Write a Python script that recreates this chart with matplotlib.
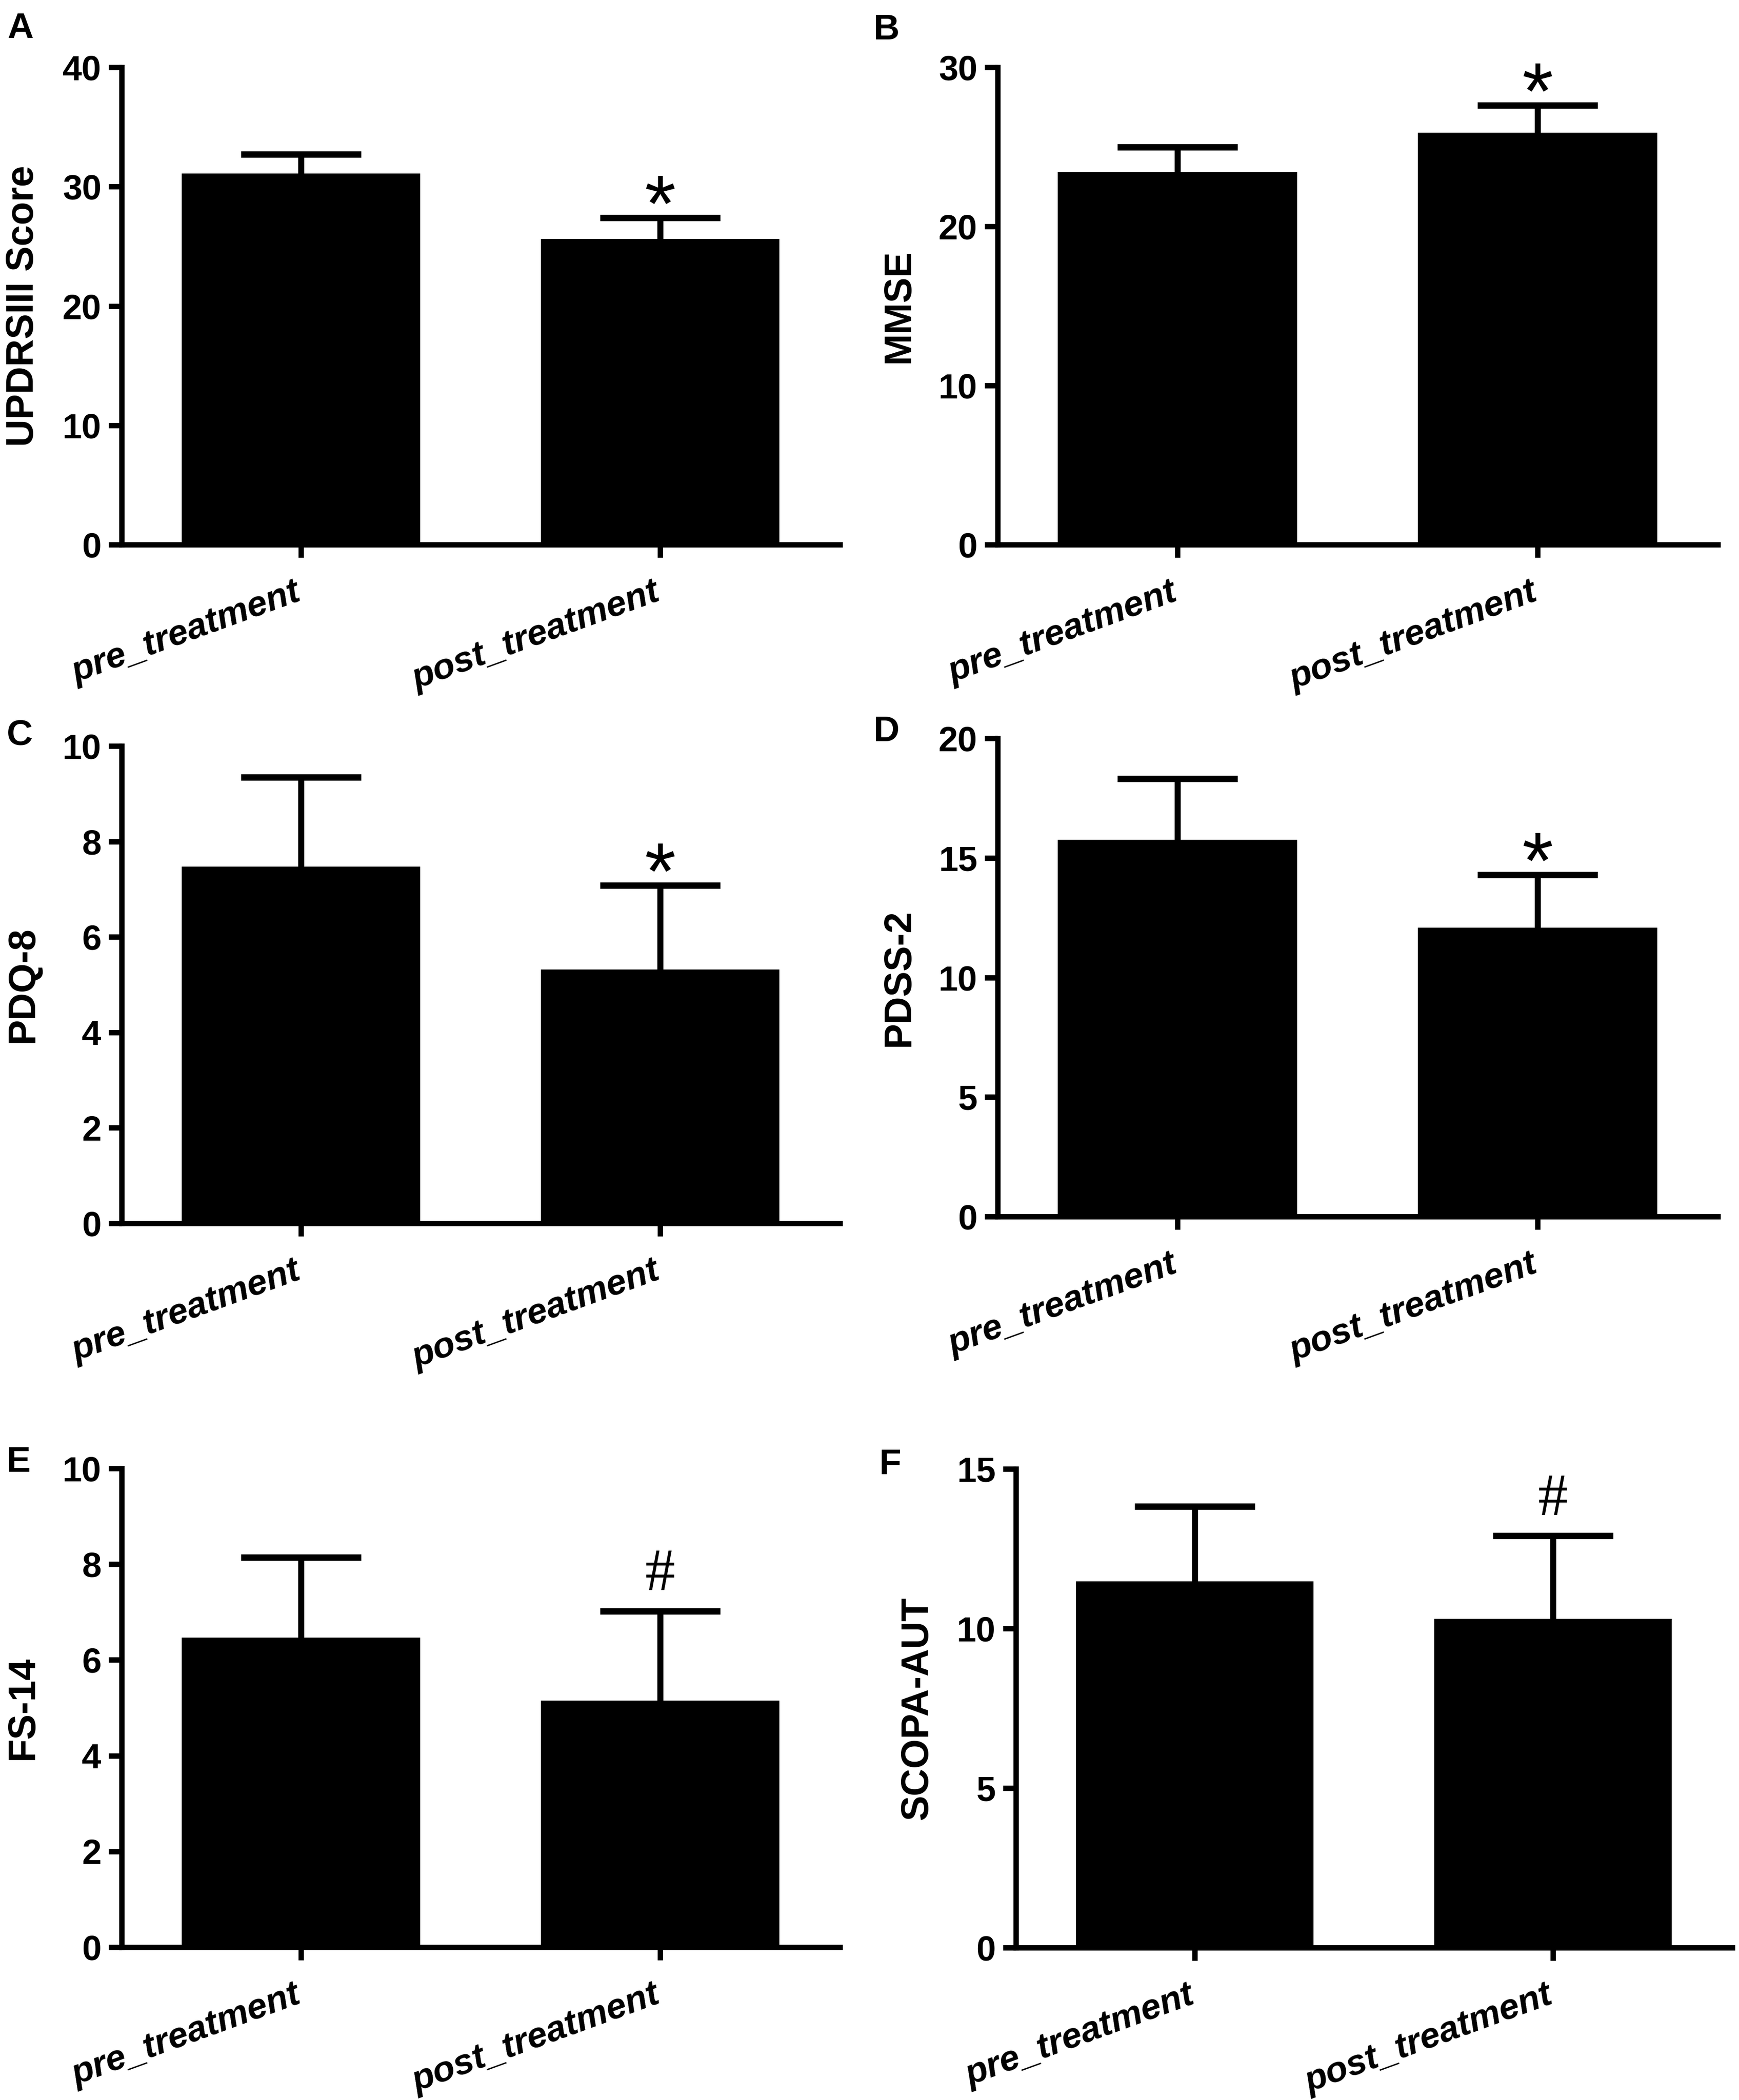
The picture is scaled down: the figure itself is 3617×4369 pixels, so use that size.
import matplotlib
matplotlib.use('Agg')
import matplotlib.pyplot as plt
from matplotlib.ticker import MultipleLocator
import matplotlib.transforms as mtransforms
import numpy as np

W, H = 3617, 4369
DPI = 300

# ---------------- data ----------------
categories = ['pre_treatment', 'post_treatment']

updrs_mean = [31.1, 25.6]
updrs_err = [1.6, 1.8]
mmse_mean = [23.4, 25.9]
mmse_err = [1.6, 1.7]
pdq_mean = [7.47, 5.32]
pdq_err = [1.88, 1.76]
pdss_mean = [15.76, 12.08]
pdss_err = [2.56, 2.21]
fs_mean = [6.47, 5.15]
fs_err = [1.67, 1.87]
scopa_mean = [11.47, 10.3]
scopa_err = [2.36, 2.6]

panel_letters = ['A', 'B', 'C', 'D', 'E', 'F']
ylabels = ['UPDRSIII Score', 'MMSE', 'PDQ-8', 'PDSS-2', 'FS-14', 'SCOPA-AUT']
ymax = [40, 30, 10, 20, 10, 15]
ystep = [10, 10, 2, 5, 2, 5]
sig_marks = ['*', '*', '*', '*', '#', '#']

means = [updrs_mean, mmse_mean, pdq_mean, pdss_mean, fs_mean, scopa_mean]
errs = [updrs_err, mmse_err, pdq_err, pdss_err, fs_err, scopa_err]

# ---------------- layout (pixels: left, top, right, bottom) ----------------
rects = [
    (252.5, 140, 1746.5, 1133),
    (2074.5, 140, 3572.5, 1133),
    (252.5, 1552, 1746.5, 2545),
    (2074.5, 1536, 3572.5, 2531),
    (252.5, 3055, 1746.5, 4051),
    (2112.5, 3056, 3602.5, 4052),
]
letter_pos = [(15, 25), (1817, 28), (14, 1495), (1817, 1488), (14, 3008), (1829, 3013)]

LW = 2.7
fig = plt.figure(figsize=(W / DPI, H / DPI), dpi=DPI)
sans = 'Liberation Sans'
serif = 'Liberation Serif'

for i in range(6):
    l, t, r, b = rects[i]
    ax = fig.add_axes([l / W, 1 - b / H, (r - l) / W, (b - t) / H])
    x = list(range(len(categories)))
    ax.bar(x, means[i], width=0.664, color='black', zorder=2)
    _, caplines, _ = ax.errorbar(x, means[i], yerr=[[0] * len(x), errs[i]], fmt='none',
                                 ecolor='black', elinewidth=3.0, capsize=30,
                                 capthick=3.2, zorder=3)
    # keep only the upper caps (the lower ones would sit on the bar tops)
    for cl in caplines:
        if np.allclose(np.asarray(cl.get_ydata(), dtype=float), means[i]):
            cl.set_visible(False)
    ax.set_xlim(-0.5, 1.5)
    ax.set_ylim(0, ymax[i])
    ax.yaxis.set_major_locator(MultipleLocator(ystep[i]))
    for s in ['top', 'right']:
        ax.spines[s].set_visible(False)
    for s in ['left', 'bottom']:
        ax.spines[s].set_linewidth(LW)
        ax.spines[s].set_capstyle('projecting')
    ax.tick_params(axis='both', width=LW, length=6.5)
    ax.tick_params(axis='y', pad=3.5)
    ax.tick_params(axis='x', pad=9)
    ax.set_xticks(x)
    ax.set_xticklabels(categories, rotation=20, ha='right', rotation_mode='anchor',
                       fontsize=18, fontweight='bold', fontstyle='italic', family=sans)
    offset = mtransforms.ScaledTranslation(-3.7 / 72, 0, fig.dpi_scale_trans)
    for lab in ax.get_xticklabels():
        lab.set_transform(lab.get_transform() + offset)
    for lab in ax.get_yticklabels():
        lab.set_fontsize(17.5)
        lab.set_fontweight('bold')
        lab.set_family(sans)
    ax.set_ylabel(ylabels[i], fontsize=19, fontweight='bold', family=sans, labelpad=10.5)

    ytop = means[i][1] + errs[i][1]
    if sig_marks[i] == '*':
        ax.annotate('*', xy=(1, ytop), xytext=(0, -6.5), textcoords='offset points',
                    ha='center', va='baseline', fontsize=40, family=sans, zorder=4)
    else:
        ax.annotate('#', xy=(1, ytop), xytext=(0, 10.5), textcoords='offset points',
                    ha='center', va='baseline', fontsize=30, family=serif, zorder=4)

    lx, ly = letter_pos[i]
    fig.text(lx / W, 1 - ly / H, panel_letters[i], fontsize=18, fontweight='bold',
             family=sans, ha='left', va='top')

fig.savefig('out.png', dpi=DPI, facecolor='white')
